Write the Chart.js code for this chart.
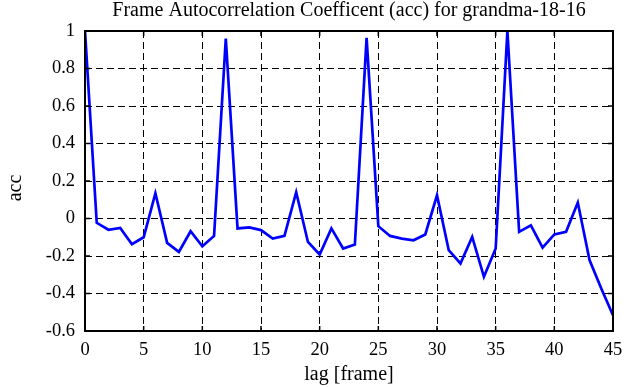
<!DOCTYPE html>
<html>
<head>
<meta charset="utf-8">
<script src="https://cdn.jsdelivr.net/npm/chart.js@4"></script>
<style>
  html, body { margin: 0; padding: 0; background: #fff; }
  #wrap { width: 641px; height: 387px; }
</style>
</head>
<body>
<div id="wrap"><canvas id="chart" width="641" height="387"></canvas></div>
<script>
// lag values (frames)
const lags = [];
for (let i = 0; i <= 45; i++) lags.push(i);

// autocorrelation coefficient
const acc = [
  1.0, -0.023, -0.06, -0.05, -0.137, -0.10, 0.135, -0.13, -0.178, -0.068,
  -0.148, -0.093, 0.96, -0.053, -0.047, -0.062, -0.107, -0.093, 0.14, -0.125,
  -0.192, -0.053, -0.16, -0.139, 0.963, -0.041, -0.093, -0.107, -0.116, -0.085,
  0.124, -0.169, -0.24, -0.098, -0.311, -0.16, 1.0, -0.071, -0.036, -0.155,
  -0.085, -0.071, 0.085, -0.222, -0.373, -0.516
];

const xTicks = [0, 5, 10, 15, 20, 25, 30, 35, 40, 45];
const yTicks = [-0.6, -0.4, -0.2, 0, 0.2, 0.4, 0.6, 0.8, 1];

const titleText = 'Frame Autocorrelation Coefficent (acc) for grandma-18-16';
const xTitle = 'lag [frame]';
const yTitle = 'acc';
const FONT = '"Liberation Serif", "DejaVu Serif", serif';

// frame, inward ticks and titles, drawn matlab-style
const framePlugin = {
  id: 'frame',
  afterDraw(chart) {
    const { ctx, chartArea: a, scales } = chart;
    ctx.save();
    ctx.strokeStyle = '#000';
    ctx.lineWidth = 2;
    ctx.strokeRect(a.left, a.top, a.right - a.left, a.bottom - a.top);
    ctx.lineWidth = 1.5;
    ctx.beginPath();
    xTicks.forEach(v => {
      const x = scales.x.getPixelForValue(v);
      ctx.moveTo(x, a.bottom); ctx.lineTo(x, a.bottom - 5);
      ctx.moveTo(x, a.top); ctx.lineTo(x, a.top + 5);
    });
    yTicks.forEach(v => {
      const y = scales.y.getPixelForValue(v);
      ctx.moveTo(a.left, y); ctx.lineTo(a.left + 5, y);
      ctx.moveTo(a.right, y); ctx.lineTo(a.right - 5, y);
    });
    ctx.stroke();

    ctx.fillStyle = '#000';
    ctx.textAlign = 'center';
    ctx.textBaseline = 'middle';
    ctx.font = '20px ' + FONT;
    const cx = (a.left + a.right) / 2;
    ctx.fillText(titleText, cx, 11);
    ctx.fillText(xTitle, cx, 375);
    ctx.translate(16, 188);
    ctx.rotate(-Math.PI / 2);
    ctx.fillText(yTitle, 0, 0);
    ctx.restore();
  }
};

new Chart(document.getElementById('chart'), {
  type: 'line',
  data: {
    datasets: [{
      data: lags.map((l, i) => ({ x: l, y: acc[i] })),
      borderColor: '#0000ff',
      borderWidth: 2.7,
      pointRadius: 0,
      tension: 0,
      fill: false
    }]
  },
  options: {
    responsive: false,
    animation: false,
    events: [],
    layout: { padding: { top: 31, right: 28, left: 0, bottom: 0 } },
    plugins: { legend: { display: false }, tooltip: { enabled: false }, title: { display: false } },
    scales: {
      x: {
        type: 'linear',
        min: 0,
        max: 45,
        afterFit(s) { s.height = 56; },
        afterBuildTicks(s) { s.ticks = xTicks.map(v => ({ value: v })); },
        ticks: { color: '#000', font: { family: FONT, size: 18.5 }, padding: 8, maxRotation: 0 },
        grid: { color: '#000', lineWidth: 1, drawTicks: false },
        border: { display: false, dash: [7, 4] }
      },
      y: {
        min: -0.6,
        max: 1,
        afterFit(s) { s.width = 85; },
        afterBuildTicks(s) { s.ticks = yTicks.map(v => ({ value: v })); },
        ticks: {
          color: '#000',
          font: { family: FONT, size: 18.5 },
          padding: 10,
          callback: v => String(Number(v.toFixed(1)))
        },
        grid: { color: '#000', lineWidth: 1, drawTicks: false },
        border: { display: false, dash: [7, 4] }
      }
    }
  },
  plugins: [framePlugin]
});
</script>
</body>
</html>
